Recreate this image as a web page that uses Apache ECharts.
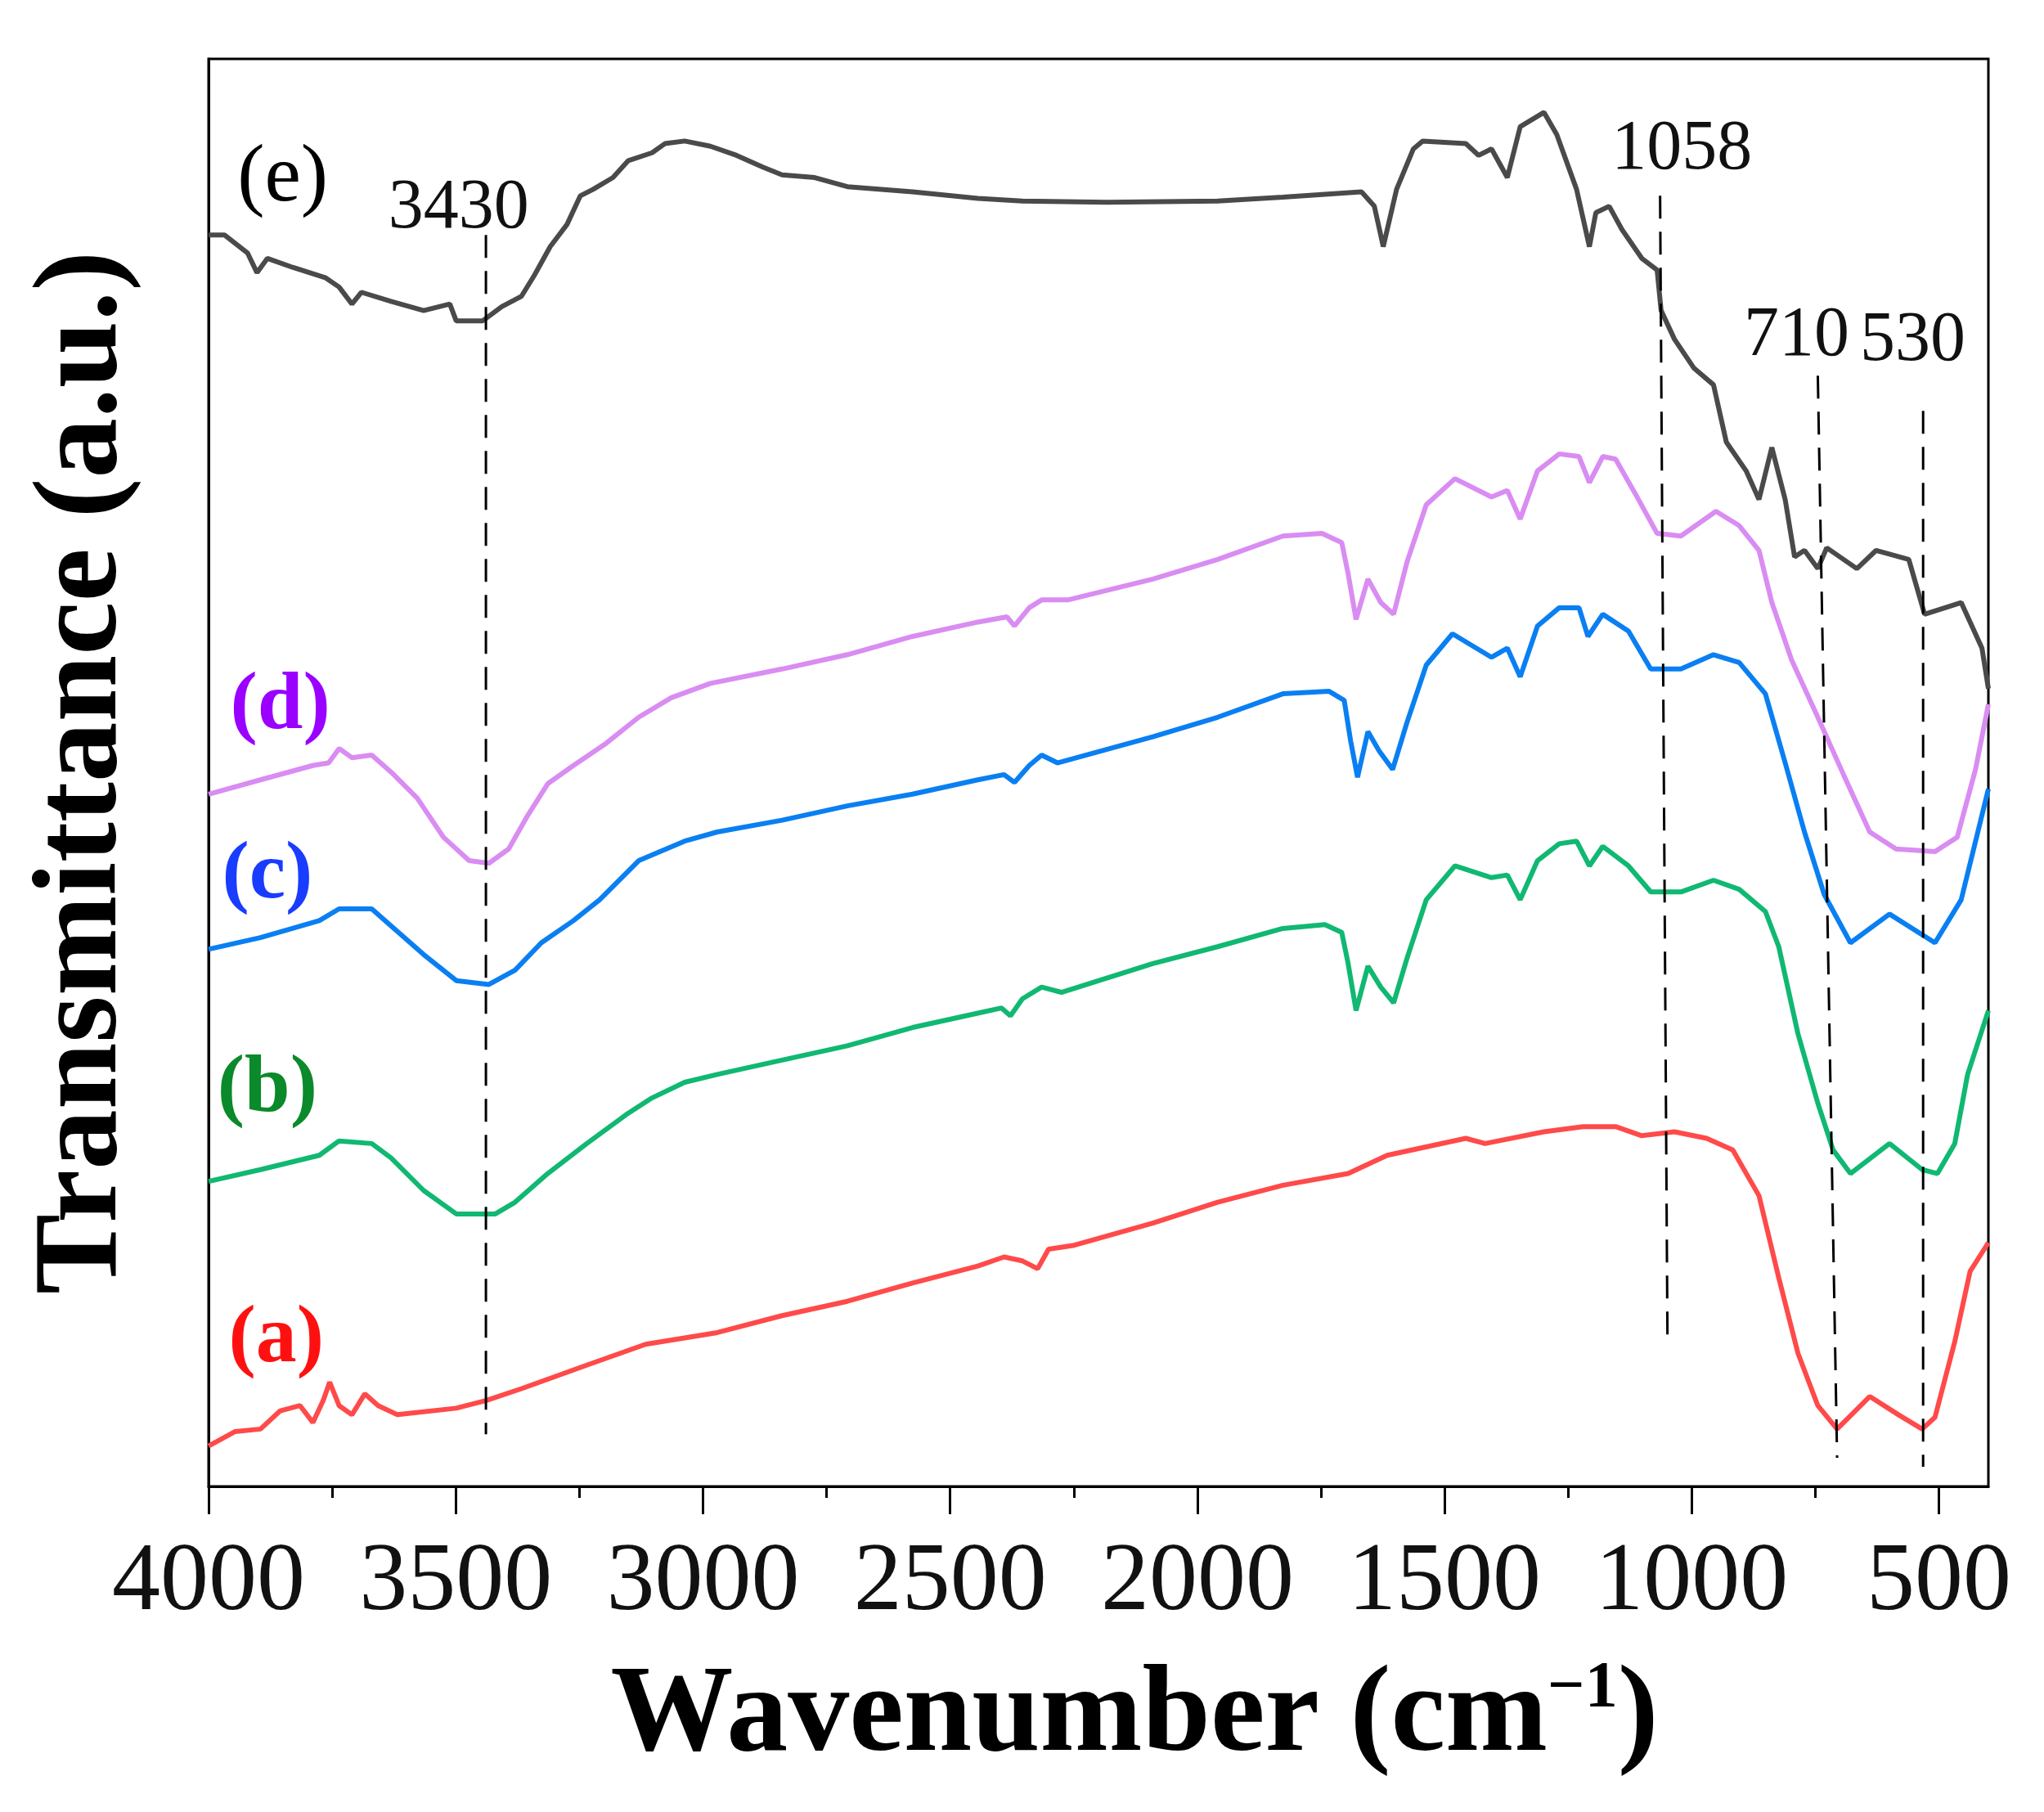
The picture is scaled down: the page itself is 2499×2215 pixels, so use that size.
<!DOCTYPE html>
<html>
<head>
<meta charset="utf-8">
<script src="https://cdn.jsdelivr.net/npm/echarts@6/dist/echarts.min.js"></script>
<style>
  html, body { margin: 0; padding: 0; background: #fff; }
  #chart { width: 2499px; height: 2215px; }
</style>
</head>
<body>
<div id="chart"></div>
<script>
// FTIR spectra, [wavenumber, transmittance a.u.]
const curveE = [
  [4000, 96.0], [3968, 96.0], [3921, 94.6], [3902, 93.1], [3881, 94.2], [3829, 93.5],
  [3763, 92.7], [3736, 92.0], [3710, 90.7], [3691, 91.6], [3631, 90.9], [3565, 90.2],
  [3512, 90.7], [3499, 89.4], [3446, 89.4], [3407, 90.5], [3367, 91.3], [3341, 92.9],
  [3309, 95.1], [3275, 96.8], [3248, 99.0], [3222, 99.5], [3182, 100.4], [3151, 101.7],
  [3103, 102.3], [3077, 103.0], [3037, 103.2], [2985, 102.8], [2932, 102.1], [2879, 101.2],
  [2840, 100.6], [2774, 100.4], [2708, 99.7], [2576, 99.3], [2444, 98.8], [2354, 98.6],
  [2183, 98.5], [1959, 98.6], [1827, 98.9], [1668, 99.3], [1642, 98.2], [1624, 95.1],
  [1597, 99.5], [1563, 102.6], [1544, 103.2], [1457, 103.0], [1431, 102.1], [1405, 102.6],
  [1373, 100.4], [1347, 104.3], [1299, 105.4], [1273, 103.7], [1233, 99.5], [1207, 95.1],
  [1194, 97.7], [1167, 98.2], [1141, 96.4], [1101, 94.2], [1070, 93.3], [1062, 90.2],
  [1035, 88.0], [996, 85.8], [956, 84.5], [930, 80.1], [890, 77.9], [864, 75.7],
  [838, 79.7], [811, 75.7], [792, 71.3], [772, 71.8], [745, 70.4], [727, 72.0],
  [666, 70.4], [627, 71.8], [561, 71.1], [529, 66.9], [455, 67.8], [413, 64.3], [400, 61.2]
];
const curveD = [
  [4000, 53.1], [3895, 54.2], [3789, 55.3], [3757, 55.5], [3736, 56.6], [3710, 55.9],
  [3670, 56.1], [3631, 54.8], [3578, 52.8], [3525, 49.8], [3473, 48.0], [3433, 47.8],
  [3393, 48.9], [3354, 51.5], [3314, 53.9], [3262, 55.3], [3196, 57.0], [3130, 59.0],
  [3064, 60.5], [2985, 61.6], [2840, 62.7], [2708, 63.8], [2576, 65.2], [2444, 66.3],
  [2385, 66.7], [2370, 66.0], [2340, 67.4], [2315, 68.0], [2262, 68.0], [2090, 69.6],
  [1959, 71.1], [1827, 72.9], [1748, 73.1], [1708, 72.4], [1695, 70.0], [1679, 66.5],
  [1655, 69.6], [1629, 67.8], [1603, 66.9], [1576, 70.9], [1537, 75.3], [1479, 77.3],
  [1405, 75.9], [1373, 76.4], [1347, 74.2], [1312, 77.9], [1268, 79.2], [1228, 79.0],
  [1207, 77.0], [1180, 79.0], [1154, 78.8], [1115, 76.2], [1070, 73.1], [1022, 72.9],
  [951, 74.8], [904, 73.7], [864, 71.8], [838, 67.8], [798, 63.4], [745, 59.0],
  [693, 54.6], [640, 50.2], [587, 48.9], [508, 48.7], [463, 49.8], [426, 55.0], [400, 60.0]
];
const curveC = [
  [4000, 41.2], [3895, 42.1], [3776, 43.4], [3736, 44.3], [3670, 44.3], [3631, 43.0],
  [3565, 40.8], [3499, 38.8], [3433, 38.5], [3380, 39.6], [3327, 41.7], [3262, 43.4],
  [3209, 45.0], [3130, 48.0], [3037, 49.5], [2971, 50.2], [2840, 51.1], [2708, 52.2],
  [2576, 53.1], [2444, 54.2], [2391, 54.6], [2370, 54.0], [2340, 55.3], [2315, 56.1],
  [2283, 55.5], [2090, 57.5], [1959, 59.0], [1827, 60.8], [1734, 61.0], [1703, 60.3],
  [1690, 57.2], [1676, 54.4], [1655, 57.9], [1632, 56.4], [1605, 55.0], [1576, 58.6],
  [1537, 63.0], [1484, 65.4], [1405, 63.6], [1373, 64.3], [1347, 62.1], [1312, 66.0],
  [1268, 67.4], [1228, 67.4], [1210, 65.2], [1180, 66.9], [1128, 65.6], [1083, 62.7],
  [1022, 62.7], [956, 63.8], [904, 63.2], [851, 60.8], [811, 55.5], [772, 50.2],
  [732, 45.4], [679, 41.7], [600, 43.9], [508, 41.7], [455, 45.0], [400, 53.5]
];
const curveB = [
  [4000, 23.4], [3895, 24.3], [3776, 25.4], [3736, 26.5], [3670, 26.3], [3631, 25.2],
  [3565, 22.7], [3499, 20.9], [3420, 20.9], [3380, 21.8], [3314, 24.0], [3235, 26.3],
  [3156, 28.5], [3103, 29.8], [3037, 31.0], [2971, 31.6], [2840, 32.7], [2708, 33.8],
  [2576, 35.2], [2444, 36.3], [2396, 36.7], [2378, 36.1], [2354, 37.4], [2315, 38.3],
  [2275, 37.9], [2090, 40.1], [1959, 41.4], [1827, 42.8], [1742, 43.1], [1708, 42.5],
  [1695, 40.1], [1679, 36.5], [1655, 39.9], [1629, 38.3], [1603, 37.1], [1576, 40.5],
  [1537, 45.0], [1479, 47.6], [1405, 46.7], [1373, 46.9], [1347, 45.0], [1312, 48.0],
  [1268, 49.3], [1233, 49.5], [1207, 47.6], [1180, 49.1], [1128, 47.6], [1083, 45.6],
  [1022, 45.6], [956, 46.5], [904, 45.8], [851, 44.1], [824, 41.4], [785, 34.7],
  [745, 29.4], [714, 25.8], [679, 24.0], [600, 26.3], [534, 24.3], [503, 24.0],
  [468, 26.3], [442, 31.6], [400, 36.5]
];
const curveA = [
  [4000, 3.1], [3947, 4.2], [3895, 4.4], [3855, 5.8], [3815, 6.2], [3789, 4.9],
  [3768, 6.6], [3755, 8.0], [3736, 6.2], [3710, 5.5], [3684, 7.1], [3657, 6.2],
  [3618, 5.5], [3499, 6.0], [3438, 6.6], [3367, 7.5], [3235, 9.3], [3116, 10.9],
  [2971, 11.8], [2840, 13.1], [2708, 14.2], [2576, 15.6], [2444, 16.9], [2391, 17.6],
  [2354, 17.3], [2323, 16.7], [2301, 18.2], [2249, 18.5], [2090, 20.2], [1959, 21.8],
  [1827, 23.1], [1695, 24.0], [1616, 25.4], [1457, 26.7], [1418, 26.3], [1299, 27.2],
  [1220, 27.6], [1154, 27.6], [1101, 26.9], [1035, 27.2], [970, 26.7], [917, 25.8],
  [864, 22.3], [824, 16.0], [785, 10.2], [745, 6.2], [706, 4.4], [640, 6.9],
  [582, 5.5], [534, 4.4], [508, 5.3], [468, 11.1], [437, 16.5], [400, 18.7]
];

const seriesNames = ['(a)', '(b)', '(c)', '(d)', '(e)'];
const seriesData = [curveA, curveB, curveC, curveD, curveE];

// peak markers: label and the dashed guide line (top / bottom ends)
const peakLabels = ['3430', '1058', '710', '530'];
const peakLines = [
  [[3439, 96.0], [3439, 4.0]],
  [[1064, 99.0], [1049, 10.7]],
  [[745, 85.2], [706, 2.2]],
  [[532, 82.5], [532, 1.5]]
];

const majorTicks = [4000, 3500, 3000, 2500, 2000, 1500, 1000, 500];
const minorTicks = [3750, 3250, 2750, 2250, 1750, 1250, 750];

// layout / style (not data)
const lineColors = ['#ff4a4a', '#10b872', '#0a7ff2', '#d98cf2', '#4a4a4a'];
const nameColors = ['#ff1010', '#0a8a2a', '#1a3cff', '#9a00ff', '#000000'];
const nameAnchors = [[3863, 11.2], [3881, 30.4], [3881, 46.8], [3855, 59.8], [3850, 100.3]];
const peakAnchors = [[3494, 98.0], [1020, 102.5], [788, 88.2], [553, 87.8]];
const serif = 'Liberation Serif';

const chart = echarts.init(document.getElementById('chart'));

const series = [];

seriesData.forEach((d, i) => {
  series.push({
    name: seriesNames[i],
    type: 'line',
    data: d,
    showSymbol: false,
    symbol: 'none',
    lineStyle: { color: lineColors[i], width: 6 },
    z: 3
  });
});

peakLines.forEach(l => {
  series.push({
    type: 'line',
    data: l,
    symbol: 'none',
    silent: true,
    lineStyle: { color: '#000', width: 3, type: [28, 16] },
    z: 4
  });
});

series.push({
  type: 'scatter',
  symbolSize: 0,
  silent: true,
  itemStyle: { opacity: 1 },
  data: seriesNames.map((n, i) => ({
    name: n,
    value: nameAnchors[i],
    label: {
      color: nameColors[i],
      fontWeight: i === 4 ? 'normal' : 'bold'
    }
  })),
  label: {
    show: true,
    position: 'inside',
    formatter: '{b}',
    fontFamily: serif,
    fontSize: 100,
    textBorderWidth: 0,
    textBorderColor: 'transparent'
  },
  z: 5
});

series.push({
  type: 'scatter',
  symbolSize: 0,
  silent: true,
  itemStyle: { opacity: 1 },
  data: peakLabels.map((n, i) => ({ name: n, value: peakAnchors[i] })),
  label: {
    show: true,
    position: 'inside',
    formatter: '{b}',
    fontFamily: serif,
    fontSize: 86,
    color: '#111',
    textBorderWidth: 0,
    textBorderColor: 'transparent'
  },
  z: 5
});

const option = {
  animation: false,
  backgroundColor: '#fff',
  grid: {
    left: 255, right: 68, top: 72, bottom: 398,
    show: true, borderColor: '#000', borderWidth: 3
  },
  xAxis: [
    {
      type: 'value',
      min: 400, max: 4000,
      inverse: true,
      name: '{t|Wavenumber (cm}{s|\u22121}{t|)}',
      nameLocation: 'middle',
      nameGap: 208,
      nameTextStyle: {
        padding: [0, 0, 0, 88],
        rich: {
          t: { fontFamily: serif, fontSize: 150, fontWeight: 'bold', color: '#000' },
          s: { fontFamily: serif, fontSize: 80, fontWeight: 'bold', color: '#000', verticalAlign: 'top' }
        }
      },
      axisLine: { show: true, lineStyle: { color: '#000', width: 3 } },
      axisTick: { show: true, customValues: majorTicks, length: 34, lineStyle: { color: '#000', width: 3 } },
      axisLabel: {
        customValues: majorTicks,
        formatter: v => String(v),
        margin: 60,
        fontFamily: serif,
        fontSize: 118,
        color: '#111'
      },
      splitLine: { show: false }
    },
    {
      type: 'value',
      min: 400, max: 4000,
      inverse: true,
      position: 'bottom',
      axisLine: { show: false },
      axisTick: { show: true, customValues: minorTicks, length: 14, lineStyle: { color: '#000', width: 3 } },
      axisLabel: { show: false },
      splitLine: { show: false }
    }
  ],
  yAxis: {
    type: 'value',
    min: 0, max: 109.5,
    name: 'Transmittance (a.u.)',
    nameLocation: 'middle',
    nameGap: 78,
    nameTextStyle: { fontFamily: serif, fontSize: 147, fontWeight: 'bold', color: '#000' },
    axisLine: { show: true, lineStyle: { color: '#000', width: 3 } },
    axisTick: { show: false },
    axisLabel: { show: false },
    splitLine: { show: false }
  },
  series: series
};

chart.setOption(option);
</script>
</body>
</html>
